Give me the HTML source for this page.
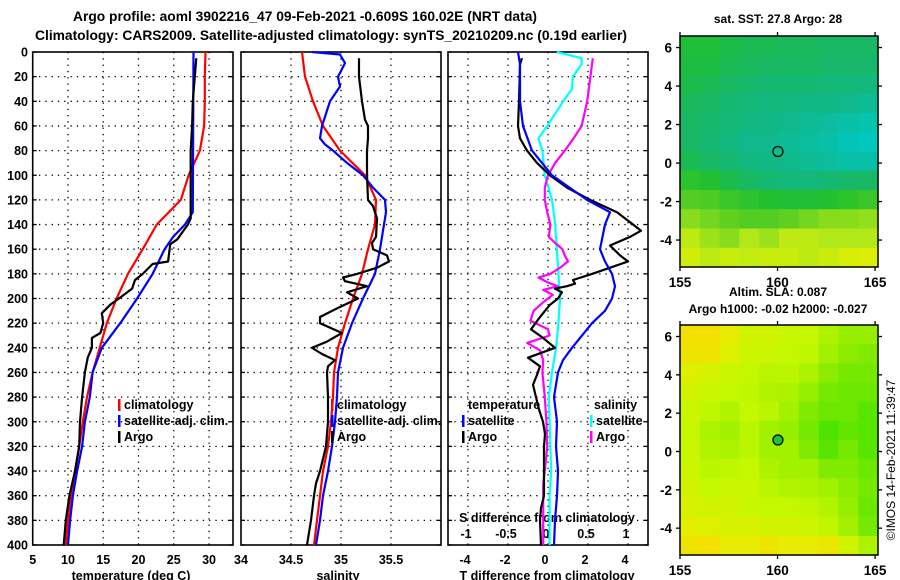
<!DOCTYPE html>
<html><head><meta charset="utf-8"><style>
html,body{margin:0;padding:0;background:#fff;width:900px;height:580px;overflow:hidden}
svg{display:block;font-family:"Liberation Sans",Arial,sans-serif;font-weight:bold}
</style></head><body>
<svg id="chart" width="900" height="580" viewBox="0 0 900 580" xmlns="http://www.w3.org/2000/svg">
<text x="305" y="21" font-size="13.8" text-anchor="middle">Argo profile: aoml 3902216_47 09-Feb-2021 -0.609S 160.02E (NRT data)</text>
<text x="331" y="40" font-size="13.8" text-anchor="middle">Climatology: CARS2009. Satellite-adjusted climatology: synTS_20210209.nc (0.19d earlier)</text>
<text x="778" y="23" font-size="12" text-anchor="middle">sat. SST: 27.8 Argo: 28</text>
<text x="778" y="296" font-size="12" text-anchor="middle">Altim. SLA: 0.087</text>
<text x="778" y="313" font-size="12" text-anchor="middle">Argo h1000: -0.02 h2000: -0.027</text>
<text transform="translate(895,460) rotate(-90)" font-size="12" font-weight="normal" text-anchor="middle">©IMOS 14-Feb-2021 11:39:47</text>
<g id="g"></g>
</svg>
<script>
// ---------- data ----------
const depthTicks=[0,20,40,60,80,100,120,140,160,180,200,220,240,260,280,300,320,340,360,380,400];
const tTicks=[5,10,15,20,25,30];
const sTicks=[34,34.5,35,35.5];
const sTickLabels=["34","34.5","35","35.5"];
const dtTicks=[-4,-2,0,2,4];
const dsTicks=[-1,-0.5,0,0.5,1];
const dsTickLabels=["-1","-0.5","0","0.5","1"];

const tClimDepth=[0,20,40,60,80,100,120,140,160,180,200,220,240,260,280,300,320,340,360,380,400];
const tClimVal=[29.5,29.4,29.4,29.3,28.7,27.1,26.0,22.6,20.6,18.5,16.9,15.5,14.5,13.5,12.7,12.1,11.6,11.0,10.4,10.0,9.7];
const tSatDepth=[0,130,140,150,160,180,200,220,240,260,280,300,320,340,360,380,400];
const tSatVal=[27.8,27.7,26.6,24.9,23.7,22.0,19.8,17.4,14.8,13.5,13.1,12.4,12.0,11.3,10.7,10.3,10.0];
const tArgoDepth=[5,40,60,80,130,135,140,152,156,170,172,180,185,192,198,205,212,220,228,232,240,248,260,280,300,320,340,360,380,400];
const tArgoVal=[28.2,27.7,27.6,27.4,27.4,27.4,27.0,25.5,24.5,24.2,22.0,20.6,19.5,19.1,17.7,16.0,14.8,15.0,14.6,13.4,13.4,12.8,12.4,12.0,11.7,11.6,11.0,10.2,9.7,9.4];

const sClimDepth=[0,20,40,60,80,100,120,140,160,180,200,220,240,260,280,300,320,340,360,380,400];
const sClimVal=[34.61,34.64,34.72,34.82,34.99,35.24,35.35,35.34,35.27,35.21,35.12,35.04,34.97,34.93,34.92,34.90,34.87,34.82,34.79,34.76,34.73];
const sSatDepth=[0,2,9,20,28,40,60,70,75,80,90,100,110,120,130,140,160,180,200,220,240,260,280,300,320,340,360,380,400];
const sSatVal=[34.71,34.99,35.04,34.97,34.99,34.89,34.81,34.79,34.84,34.92,35.06,35.22,35.32,35.44,35.45,35.43,35.39,35.34,35.22,35.11,35.02,34.97,34.96,34.94,34.91,34.87,34.82,34.79,34.75];
const sArgoDepth=[5,20,40,55,60,70,80,100,120,125,135,150,155,160,165,170,175,180,183,186,190,195,200,208,215,220,228,235,240,245,250,255,260,280,300,320,340,350,360,380,400];
const sArgoVal=[35.18,35.18,35.21,35.24,35.27,35.27,35.26,35.26,35.27,35.32,35.36,35.35,35.31,35.32,35.46,35.48,35.36,35.16,35.02,35.04,35.26,35.06,35.17,34.96,34.79,34.79,35.01,34.86,34.71,34.81,34.94,34.87,34.86,34.87,34.87,34.85,34.79,34.75,34.73,34.70,34.66];

const dtSatDepth=[0,10,40,60,80,100,120,130,140,160,170,180,190,200,210,220,240,250,260,280,300,320,340,360,380,400];
const dtSatVal=[-1.5,-1.4,-1.4,-1.25,-0.8,0.2,1.95,3.1,2.85,2.6,2.85,3.2,3.35,3.2,2.85,2.2,1.2,0.75,0.5,0.3,0.45,0.4,0.5,0.45,0.35,0.3];
const dtArgoDepth=[5,10,40,60,70,80,90,100,110,120,130,140,145,150,157,165,170,175,180,185,188,190,192,195,200,205,215,225,232,240,248,255,262,270,280,290,300,310,320,360,370,380,400];
const dtArgoVal=[-1.3,-1.4,-1.45,-1.5,-1.4,-1.05,-0.55,0.1,0.95,2.1,3.45,4.25,4.65,4.1,3.1,3.6,4.0,3.1,2.2,1.25,1.35,0.95,0.35,0.7,0.5,0.1,-0.4,-0.85,-0.25,0.35,-1.0,-0.4,-0.55,-0.75,-0.6,-0.45,-0.25,-0.15,-0.2,-0.2,-0.35,-0.4,-0.35];
const dsSatDepth=[0,5,10,20,30,40,60,70,80,100,120,140,160,180,200,220,240,260,280,300,320,340,360,380,400];
const dsSatVal=[0.11,0.42,0.42,0.31,0.30,0.19,-0.01,-0.12,-0.07,-0.04,0.05,0.09,0.11,0.13,0.15,0.13,0.10,0.05,0.01,0.02,0.03,0.04,0.02,0.02,0.02];
const dsArgoDepth=[5,20,40,60,70,80,90,100,110,120,130,140,150,155,160,165,170,175,180,183,187,190,193,197,203,210,218,225,230,236,242,250,260,280,300,320,340,350,360,380,400];
const dsArgoVal=[0.56,0.53,0.49,0.42,0.32,0.21,0.09,0.0,-0.04,-0.04,-0.01,0.03,0.01,0.09,0.18,0.21,0.25,0.15,0.03,-0.12,0.0,0.12,-0.06,0.06,-0.06,-0.18,-0.22,0.0,0.02,-0.26,-0.1,-0.06,-0.07,-0.04,-0.02,-0.01,-0.04,-0.06,-0.06,-0.06,-0.06];

const latTicks=[6,4,2,0,-2,-4];
const lonTicks=[155,160,165];
const sstGrid=[
[0.47,0.47,0.45,0.44,0.44,0.43,0.43,0.42,0.42,0.42],
[0.46,0.46,0.44,0.43,0.42,0.42,0.42,0.41,0.41,0.41],
[0.45,0.44,0.42,0.41,0.40,0.40,0.40,0.39,0.39,0.38],
[0.43,0.42,0.40,0.39,0.38,0.38,0.37,0.37,0.36,0.35],
[0.42,0.41,0.39,0.38,0.37,0.36,0.35,0.34,0.33,0.32],
[0.42,0.40,0.38,0.36,0.36,0.35,0.34,0.33,0.31,0.30],
[0.44,0.42,0.40,0.38,0.37,0.36,0.35,0.34,0.33,0.33],
[0.50,0.48,0.45,0.42,0.40,0.39,0.39,0.40,0.41,0.42],
[0.56,0.55,0.52,0.50,0.48,0.47,0.47,0.48,0.50,0.52],
[0.62,0.60,0.58,0.56,0.56,0.58,0.60,0.62,0.62,0.63],
[0.68,0.64,0.62,0.66,0.64,0.68,0.68,0.66,0.66,0.66],
[0.71,0.68,0.70,0.69,0.70,0.70,0.68,0.70,0.72,0.73]];
const slaGrid=[
[0.95,0.95,0.85,0.75,0.75,0.72,0.7,0.6,0.5,0.5],
[0.9,0.9,0.8,0.72,0.72,0.7,0.68,0.55,0.45,0.4],
[0.8,0.78,0.72,0.7,0.65,0.66,0.6,0.45,0.35,0.35],
[0.75,0.72,0.7,0.68,0.62,0.6,0.5,0.35,0.3,0.3],
[0.72,0.68,0.62,0.7,0.65,0.55,0.4,0.3,0.3,0.2],
[0.7,0.6,0.55,0.65,0.55,0.5,0.35,0.15,0.25,0.2],
[0.72,0.62,0.6,0.65,0.55,0.55,0.4,0.2,0.35,0.2],
[0.72,0.65,0.68,0.7,0.6,0.55,0.55,0.4,0.4,0.3],
[0.75,0.7,0.72,0.72,0.65,0.62,0.6,0.55,0.45,0.35],
[0.78,0.75,0.75,0.72,0.7,0.7,0.68,0.62,0.5,0.3],
[0.82,0.8,0.78,0.78,0.76,0.75,0.72,0.68,0.55,0.35],
[0.92,0.95,0.85,0.85,0.9,0.85,0.85,0.88,0.75,0.6]];
const argoLon=160.02, argoLat=0.6;

// ---------- drawing ----------
const NS="http://www.w3.org/2000/svg";
const G=document.getElementById('g');
function el(tag,attrs,parent){const e=document.createElementNS(NS,tag);for(const k in attrs)e.setAttribute(k,attrs[k]);(parent||G).appendChild(e);return e;}
function txt(x,y,s,size,anchor,parent){const t=el('text',{x:x,y:y,'font-size':size,'text-anchor':anchor||'middle'},parent);t.textContent=s;return t;}

const PT=52, PB=545;
const yD=d=>PT+(d/400)*(PB-PT);
const panels=[
 {name:'temperature',x0:32.7,x1:233,min:5,max:33.4},
 {name:'salinity',x0:241,x1:441,min:34,max:36},
 {name:'difference',x0:448,x1:648,min:-5,max:5}];
const xT=v=>panels[0].x0+(v-5)*(panels[0].x1-panels[0].x0)/(33.4-5);
const xS=v=>241+(v-34)*100;
const xDT=v=>548+v*20;
const xDS=v=>548+v*80;

panels.forEach((p,i)=>{
  const g=el('g',{});
  
  
  depthTicks.forEach(d=>{if(d>0&&d<400){const l=el('line',{x1:p.x0,x2:p.x1,y1:yD(d),y2:yD(d),stroke:'#000','stroke-width':1.3,'stroke-dasharray':'1.3 5'},g);}});
  let vg=[];
  if(i===0) vg=tTicks.filter(v=>v>5).map(xT);
  if(i===1) vg=sTicks.filter(v=>v>34).map(xS);
  if(i===2) vg=dtTicks.map(xDT);
  vg.forEach(x=>{const l=el('line',{x1:x,x2:x,y1:PT,y2:PB,stroke:'#000','stroke-width':1.3,'stroke-dasharray':'1.3 5'},g);});
  depthTicks.forEach(d=>{el('line',{x1:p.x0,x2:p.x0+4,y1:yD(d),y2:yD(d),stroke:'#000','stroke-width':1.3},g);el('line',{x1:p.x1-4,x2:p.x1,y1:yD(d),y2:yD(d),stroke:'#000','stroke-width':1.3},g);});
  const r=el('rect',{x:p.x0,y:PT,width:p.x1-p.x0,height:PB-PT,fill:'none',stroke:'#000','stroke-width':1.6},g);
  
  
});
depthTicks.forEach(d=>{const t=txt(28,yD(d)+4.5,String(d),12.5,'end');});
tTicks.forEach(v=>{const t=txt(xT(v),564,String(v),12.5);});
txt(241,564,'34',12.5);
sTicks.forEach((v,k)=>{if(k>0){const t=txt(xS(v),564,sTickLabels[k],12.5);}});
dtTicks.forEach(v=>{const t=txt(xDT(v)-3,564,String(v),12.5);});
dsTicks.forEach((v,k)=>{const t=txt(xDS(v)-2,538,dsTickLabels[k],12.5);});
let at;
at=txt(131,580,'temperature (deg C)',12.5);
at=txt(338,580,'salinity',12.5);
at=txt(547,580,'T difference from climatology',12.5);
at=txt(547,522,'S difference from climatology',12.5);

function series(depths,vals,xf,color,name){
  const pts=depths.map((d,k)=>xf(vals[k]).toFixed(1)+','+yD(d).toFixed(1)).join(' ');
  const l=el('polyline',{points:pts,fill:'none',stroke:color,'stroke-width':2.2,'stroke-linejoin':'round'});
  
  
}
series(tClimDepth,tClimVal,xT,'#ff0000','temp-climatology-line');
series(tSatDepth,tSatVal,xT,'#0000ff','temp-satellite-line');
series(tArgoDepth,tArgoVal,xT,'#000000','temp-argo-line');
series(sClimDepth,sClimVal,xS,'#ff0000','sal-climatology-line');
series(sSatDepth,sSatVal,xS,'#0000ff','sal-satellite-line');
series(sArgoDepth,sArgoVal,xS,'#000000','sal-argo-line');
series(dsSatDepth,dsSatVal,xDS,'#00ffff','s-diff-satellite-line');
series(dsArgoDepth,dsArgoVal,xDS,'#ff00ff','s-diff-argo-line');
series(dtArgoDepth,dtArgoVal,xDT,'#000000','t-diff-argo-line');
series(dtSatDepth,dtSatVal,xDT,'#0000ff','t-diff-satellite-line');

function legend(x,y,color,label,name){
  const g=el('g',{});
  
  
  el('rect',{x:x,y:y-10,width:2.5,height:12,fill:color},g);
  txt(x+6,y,label,12.5,'start',g);
}
legend(118,409,'#ff0000','climatology','legend-climatology');
legend(118,425,'#0000ff','satellite-adj. clim.','legend-satellite-adj');
legend(118,441,'#000000','Argo','legend-argo');
legend(331,409,'#ff0000','climatology','legend-sal-climatology');
legend(331,425,'#0000ff','satellite-adj. clim.','legend-sal-satellite-adj');
legend(331,441,'#000000','Argo','legend-sal-argo');
at=txt(468,409,'temperature',12.5,'start');
at=txt(594,409,'salinity',12.5,'start');
legend(462,425,'#0000ff','satellite','legend-t-satellite');
legend(462,441,'#000000','Argo','legend-t-argo');
legend(590,425,'#00ffff','satellite','legend-s-satellite');
legend(590,441,'#ff00ff','Argo','legend-s-argo');

// ---------- maps ----------
const sstStops=[[0.30,[0,200,190]],[0.36,[16,184,140]],[0.42,[24,184,100]],[0.48,[32,192,48]],[0.58,[96,208,32]],[0.66,[176,232,24]],[0.74,[224,240,0]],[0.85,[240,192,0]],[1.0,[208,32,0]]];
const slaStops=[[0,[48,224,0]],[0.4,[128,234,0]],[0.7,[196,248,0]],[0.85,[232,236,0]],[1,[248,216,0]]];
function lerpStops(stops,v){
  if(v<=stops[0][0])return 'rgb('+stops[0][1].join(',')+')';
  for(let k=1;k<stops.length;k++){if(v<=stops[k][0]){const a=stops[k-1],b=stops[k];const t=(v-a[0])/(b[0]-a[0]);
    return 'rgb('+[0,1,2].map(j=>Math.round(a[1][j]+(b[1][j]-a[1][j])*t)).join(',')+')';}}
  return 'rgb('+stops[stops.length-1][1].join(',')+')';
}
function map(name,top,bottom,grid,stops,circleFill){
  const x0=680,x1=878,latTop=6.6,latBot=-5.4;
  const xL=lon=>x0+(lon-155)*(x1-x0)/10.15;
  const yL=lat=>top+(latTop-lat)*(bottom-top)/(latTop-latBot);
  const g=el('g',{});
  
  
  const cw=(x1-x0)/grid[0].length, ch=(bottom-top)/grid.length;
  grid.forEach((row,ri)=>row.forEach((v,ci)=>{
    const c=el('rect',{x:x0+ci*cw,y:top+ri*ch,width:cw+0.6,height:ch+0.6,fill:lerpStops(stops,v)},g);
    
    
  }));
  const fr=el('rect',{x:x0,y:top,width:x1-x0,height:bottom-top,fill:'none',stroke:'#000','stroke-width':1.5},g);
  
  
  latTicks.forEach(l=>{const y=yL(l);el('line',{x1:x0-4,x2:x0,y1:y,y2:y,stroke:'#000','stroke-width':1.3},g);el('line',{x1:x1,x2:x1+4,y1:y,y2:y,stroke:'#000','stroke-width':1.3},g);
    const t=txt(x0-8,y+5,String(l),13.5,'end',g);});
  lonTicks.forEach(l=>{const x=xL(l);el('line',{x1:x,x2:x,y1:top-4,y2:top,stroke:'#000','stroke-width':1.3},g);el('line',{x1:x,x2:x,y1:bottom,y2:bottom+4,stroke:'#000','stroke-width':1.3},g);
    const t=txt(x,bottom+20,String(l),13.5,'middle',g);});
  const c=el('circle',{cx:xL(argoLon),cy:yL(argoLat),r:5,fill:circleFill,stroke:'#000','stroke-width':1.2},g);
  
  
}
map('sst-map',36,267,sstGrid,sstStops,'none');
map('sla-map',325,555,slaGrid,slaStops,'#20c040');
</script>
</body></html>
